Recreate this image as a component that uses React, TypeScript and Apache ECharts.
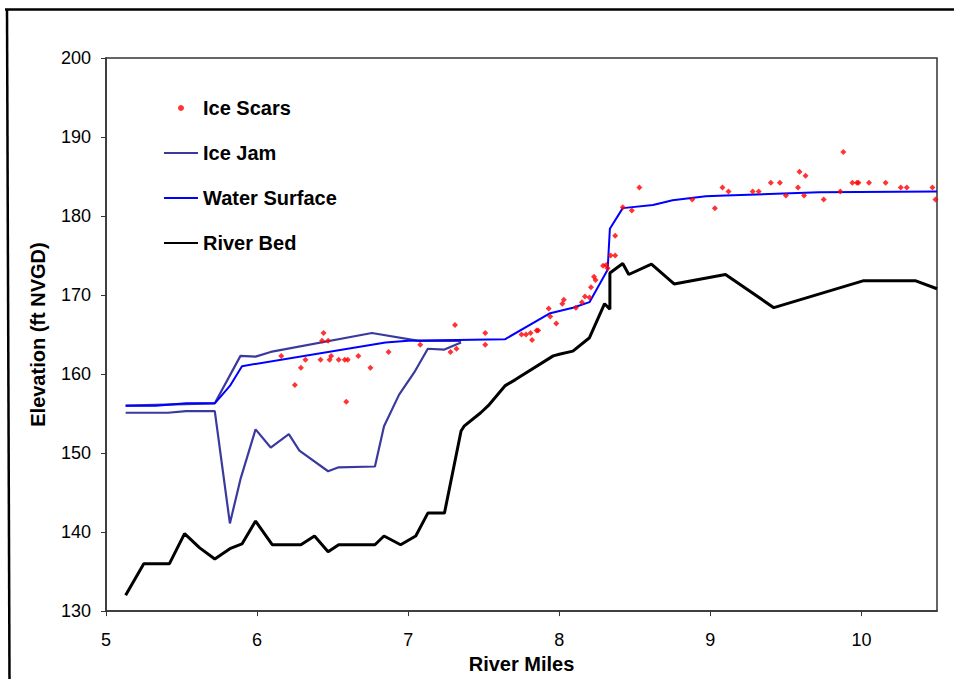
import React, { useEffect, useRef } from "react";
import * as echarts from "echarts";

const X_TICKS = { min: 5, max: 10.5, interval: 1 };
const Y_TICKS = { min: 130, max: 200, interval: 10 };

const iceScars: [number, number][] = [
  [6.16, 162.3], [6.25, 158.6], [6.29, 160.8], [6.32, 161.8], [6.42, 161.8], [6.43, 164.2],
  [6.44, 165.2], [6.47, 164.2], [6.48, 161.8], [6.49, 162.3], [6.54, 161.8], [6.58, 161.8],
  [6.6, 161.8], [6.59, 156.5], [6.67, 162.3], [6.75, 160.8], [6.87, 162.8], [7.08, 163.7],
  [7.31, 166.2], [7.28, 162.8], [7.32, 163.2], [7.51, 165.2], [7.51, 163.7], [7.75, 165.0],
  [7.78, 165.0], [7.81, 165.2], [7.82, 164.3], [7.85, 165.5], [7.86, 165.5], [7.93, 168.3],
  [7.94, 167.3], [7.98, 166.4], [8.02, 168.9], [8.03, 169.4], [8.11, 168.4], [8.15, 169.1],
  [8.17, 169.8], [8.2, 169.7], [8.21, 171.0], [8.23, 172.3], [8.24, 171.9], [8.29, 173.7],
  [8.31, 173.8], [8.32, 173.4], [8.34, 175.0], [8.37, 175.0], [8.37, 177.5], [8.42, 181.1],
  [8.48, 180.7], [8.53, 183.6], [8.88, 182.1], [9.03, 181.0], [9.08, 183.6], [9.12, 183.1],
  [9.28, 183.1], [9.32, 183.1], [9.4, 184.2], [9.46, 184.2], [9.5, 182.6], [9.58, 183.6],
  [9.59, 185.6], [9.63, 185.1], [9.62, 182.6], [9.75, 182.1], [9.86, 183.1], [9.88, 188.1],
  [9.94, 184.2], [9.97, 184.2], [9.98, 184.2], [10.05, 184.2], [10.16, 184.2], [10.26, 183.6],
  [10.3, 183.6], [10.47, 183.6], [10.49, 182.1],
];

const iceJamTop: [number, number][] = [
  [5.13, 156.0], [5.72, 156.3], [5.89, 162.3], [5.99, 162.2], [6.09, 162.8], [6.76, 165.2],
  [7.07, 164.2], [7.35, 164.2],
];

const iceJamBottom: [number, number][] = [
  [5.13, 155.1], [5.41, 155.1], [5.53, 155.3], [5.72, 155.3], [5.82, 141.1], [5.89, 146.7],
  [5.99, 153.0], [6.09, 150.7], [6.21, 152.4], [6.28, 150.3], [6.47, 147.7], [6.54, 148.2],
  [6.78, 148.3], [6.84, 153.4], [6.94, 157.4], [7.04, 160.2], [7.13, 163.2], [7.24, 163.1],
  [7.35, 164.0],
];

const waterSurface: [number, number][] = [
  [5.13, 156.0], [5.33, 156.0], [5.53, 156.3], [5.72, 156.3], [5.82, 158.5], [5.9, 161.0],
  [6.85, 164.0], [7.0, 164.2], [7.64, 164.4], [7.94, 167.7], [8.09, 168.4], [8.2, 169.1],
  [8.32, 173.2], [8.335, 178.4], [8.42, 181.0], [8.62, 181.4], [8.75, 182.0], [8.97, 182.5],
  [9.1, 182.6], [9.72, 183.0], [10.5, 183.1],
];

const riverBed: [number, number][] = [
  [5.13, 132.0], [5.25, 136.0], [5.42, 136.0], [5.52, 139.8], [5.62, 138.0], [5.72, 136.6],
  [5.82, 137.9], [5.9, 138.5], [5.99, 141.4], [6.1, 138.4], [6.29, 138.4], [6.38, 139.5],
  [6.47, 137.5], [6.54, 138.4], [6.78, 138.4], [6.84, 139.5], [6.95, 138.4], [7.05, 139.5],
  [7.13, 142.4], [7.24, 142.4], [7.35, 152.8], [7.37, 153.4], [7.48, 155.1], [7.53, 156.0],
  [7.64, 158.5], [7.71, 159.3], [7.96, 162.3], [8.0, 162.5], [8.09, 162.9], [8.2, 164.6],
  [8.3, 168.9], [8.335, 168.2], [8.335, 172.8], [8.42, 174.0], [8.46, 172.6], [8.61, 173.9],
  [8.76, 171.4], [9.1, 172.6], [9.42, 168.4], [10.01, 171.8], [10.36, 171.8], [10.5, 170.8],
];

const LEGEND_NAMES = ["Ice Scars", "Ice Jam", "Water Surface", "River Bed"];

const FONT = "'Liberation Sans', Arial, Helvetica, sans-serif";

export default function App() {
  const ref = useRef<HTMLDivElement>(null);
  useEffect(() => {
    if (!ref.current) return;
    const chart = echarts.init(ref.current, undefined, { renderer: "svg" });
    const axisColor = "#333";
    const hiddenSymbol = { opacity: 0 };
    chart.setOption({
      animation: false,
      backgroundColor: "#fff",
      grid: {
        left: 106,
        top: 58,
        right: 17,
        bottom: 66,
        show: true,
        borderColor: axisColor,
        borderWidth: 1.5,
        backgroundColor: "transparent",
      },
      legend: {
        orient: "vertical",
        left: 163,
        top: 98,
        padding: 0,
        itemWidth: 34,
        itemHeight: 6,
        itemGap: 25,
        textStyle: { fontSize: 20, fontWeight: "bold", color: "#000", fontFamily: FONT, lineHeight: 20 },
        data: [
          { name: LEGEND_NAMES[0], icon: "circle" },
          { name: LEGEND_NAMES[1], itemStyle: hiddenSymbol },
          { name: LEGEND_NAMES[2], itemStyle: hiddenSymbol },
          { name: LEGEND_NAMES[3], itemStyle: hiddenSymbol },
        ],
      },
      xAxis: {
        type: "value",
        min: X_TICKS.min,
        max: X_TICKS.max,
        interval: X_TICKS.interval,
        name: "River Miles",
        nameLocation: "middle",
        nameGap: 40,
        nameTextStyle: { fontSize: 20, fontWeight: "bold", color: "#000", fontFamily: FONT },
        axisLine: { show: true, lineStyle: { color: axisColor, width: 1.5 } },
        axisTick: { show: true, inside: false, length: 5, lineStyle: { color: axisColor } },
        axisLabel: { fontSize: 18, color: "#000", fontFamily: FONT, margin: 20, showMaxLabel: false },
        splitLine: { show: false },
      },
      yAxis: {
        type: "value",
        min: Y_TICKS.min,
        max: Y_TICKS.max,
        interval: Y_TICKS.interval,
        name: "Elevation (ft NVGD)",
        nameLocation: "middle",
        nameGap: 58,
        nameTextStyle: { fontSize: 20, fontWeight: "bold", color: "#000", fontFamily: FONT },
        axisLine: { show: true, lineStyle: { color: axisColor, width: 1.5 } },
        axisTick: { show: true, inside: false, length: 5, lineStyle: { color: axisColor } },
        axisLabel: { fontSize: 18, color: "#000", fontFamily: FONT, margin: 15 },
        splitLine: { show: false },
      },
      series: [
        {
          name: "River Bed",
          type: "line",
          data: riverBed,
          symbol: "none",
          lineStyle: { color: "#000", width: 3 },
          itemStyle: { color: "#000" },
          z: 2,
        },
        {
          name: "Ice Jam",
          type: "line",
          data: iceJamTop,
          symbol: "none",
          lineStyle: { color: "#3a3a9e", width: 2.2 },
          itemStyle: { color: "#3a3a9e" },
          z: 3,
        },
        {
          name: "Ice Jam",
          type: "line",
          data: iceJamBottom,
          symbol: "none",
          lineStyle: { color: "#3a3a9e", width: 2.2 },
          itemStyle: { color: "#3a3a9e" },
          z: 3,
        },
        {
          name: "Water Surface",
          type: "line",
          data: waterSurface,
          symbol: "none",
          lineStyle: { color: "#0000ff", width: 2 },
          itemStyle: { color: "#0000ff" },
          z: 4,
        },
        {
          name: "Ice Scars",
          type: "scatter",
          data: iceScars,
          symbol: "diamond",
          symbolSize: 6,
          itemStyle: { color: "#ff0000" },
          z: 5,
        },
      ],
      graphic: [
        { type: "line", shape: { x1: 5, y1: 9.5, x2: 954, y2: 9.5 }, style: { stroke: "#000", lineWidth: 2.5 } },
        { type: "line", shape: { x1: 7, y1: 9, x2: 9.5, y2: 679 }, style: { stroke: "#000", lineWidth: 2.5 } },
      ],
    });
    return () => chart.dispose();
  }, []);
  return (
    <div
      ref={ref}
      style={{ position: "fixed", left: 0, top: 0, width: 954, height: 679, background: "#fff" }}
    />
  );
}
